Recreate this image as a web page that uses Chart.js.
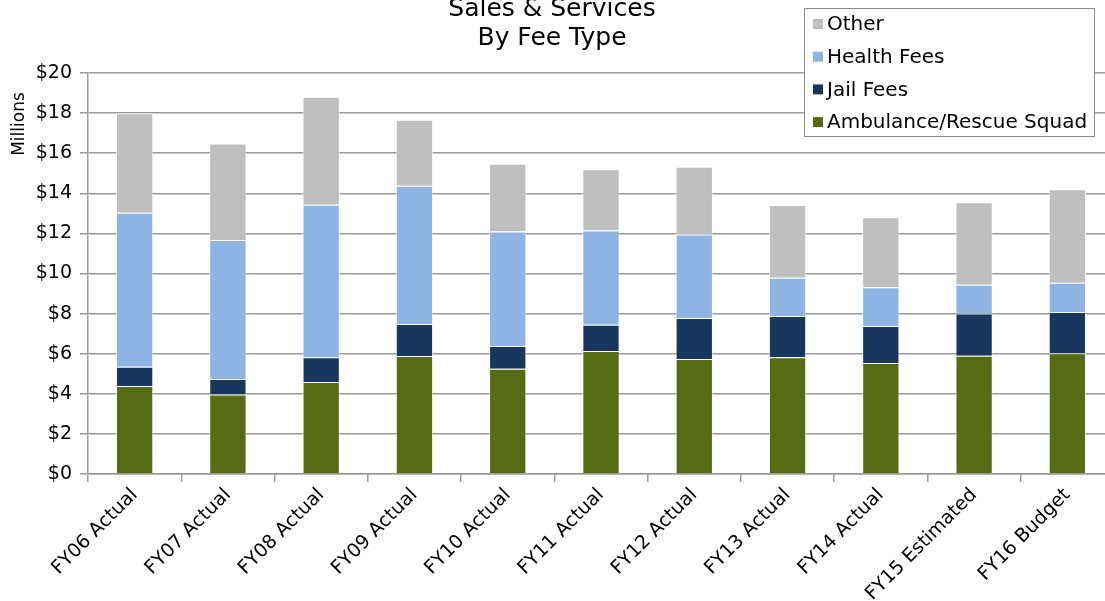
<!DOCTYPE html>
<html>
<head>
<meta charset="utf-8">
<script src="https://cdn.jsdelivr.net/npm/chart.js@4"></script>
<style>
  html, body { margin: 0; padding: 0; background: #fff; overflow: hidden; }
  #wrap { width: 1114px; height: 601px; }
</style>
</head>
<body>
<div id="wrap"><canvas id="chart" width="1114" height="601"></canvas></div>
<script>
// Sales & Services by fee type, $ millions
const categories = ['FY06 Actual', 'FY07 Actual', 'FY08 Actual', 'FY09 Actual', 'FY10 Actual',
    'FY11 Actual', 'FY12 Actual', 'FY13 Actual', 'FY14 Actual', 'FY15 Estimated', 'FY16 Budget'];
const ambulance = [4.39, 3.97, 4.59, 5.89, 5.25, 6.13, 5.74, 5.82, 5.54, 5.90, 6.02];
const jailFees = [0.96, 0.77, 1.23, 1.59, 1.13, 1.32, 2.04, 2.06, 1.84, 2.11, 2.06];
const healthFees = [7.68, 6.93, 7.61, 6.90, 5.71, 4.69, 4.16, 1.91, 1.93, 1.43, 1.46];
const other = [4.96, 4.82, 5.39, 3.29, 3.39, 3.06, 3.39, 3.63, 3.49, 4.11, 4.66];
const yTicks = [0, 2, 4, 6, 8, 10, 12, 14, 16, 18, 20];

const FONT = '"DejaVu Sans", sans-serif';
const GRID = '#9a9a9a';

// title, "Millions" label and the boxed legend, drawn like the Excel original
const extras = {
    id: 'extras',
    afterDraw(chart) {
        const ctx = chart.ctx;
        ctx.save();
        ctx.fillStyle = '#000';
        ctx.font = '25px ' + FONT;
        ctx.textAlign = 'center';
        ctx.textBaseline = 'alphabetic';
        ctx.fillText('Sales & Services', 552, 16);
        ctx.fillText('By Fee Type', 552, 45);

        ctx.save();
        ctx.translate(24, 124);
        ctx.rotate(-Math.PI / 2);
        ctx.font = '17px ' + FONT;
        ctx.textAlign = 'center';
        ctx.fillText('Millions', 0, 0);
        ctx.restore();

        // legend box
        const lx = 804, ly = 8, lw = 290, lh = 128;
        ctx.fillStyle = '#fff';
        ctx.fillRect(lx, ly, lw, lh);
        ctx.strokeStyle = '#8a8a8a';
        ctx.lineWidth = 1;
        ctx.strokeRect(lx + 0.5, ly + 0.5, lw, lh);
        const items = chart.data.datasets.slice().reverse();
        ctx.font = '20px ' + FONT;
        ctx.textAlign = 'left';
        ctx.textBaseline = 'middle';
        items.forEach((d, i) => {
            const y = 24 + i * 32.7;
            ctx.fillStyle = d.backgroundColor;
            ctx.fillRect(813, y - 5, 10, 10);
            ctx.fillStyle = '#000';
            ctx.fillText(d.label, 827, y + 1);
        });
        ctx.restore();
    }
};

new Chart(document.getElementById('chart'), {
    type: 'bar',
    data: {
        labels: categories,
        datasets: [
            { label: 'Ambulance/Rescue Squad', data: ambulance, backgroundColor: '#576C12' },
            { label: 'Jail Fees', data: jailFees, backgroundColor: '#17375E' },
            { label: 'Health Fees', data: healthFees, backgroundColor: '#8EB4E3' },
            { label: 'Other', data: other, backgroundColor: '#BFBFBF' }
        ].map(d => Object.assign(d, {
            borderColor: 'rgba(255,255,255,0.7)',
            borderWidth: 1,
            barPercentage: 0.4,
            categoryPercentage: 1.0
        }))
    },
    options: {
        responsive: false,
        animation: false,
        layout: { padding: { top: 73, left: 0, right: 0, bottom: 0 } },
        plugins: {
            legend: { display: false },
            title: { display: false },
            tooltip: { enabled: false }
        },
        scales: {
            x: {
                stacked: true,
                afterFit(scale) { scale.height = 127; },
                grid: {
                    drawOnChartArea: false,
                    drawTicks: true,
                    tickLength: 8,
                    color: GRID,
                    lineWidth: 1.5,
                    offset: true
                },
                border: { color: GRID, width: 1.5 },
                ticks: {
                    color: '#000',
                    font: { family: FONT, size: 19 },
                    minRotation: 45,
                    maxRotation: 45,
                    autoSkip: false,
                    padding: 2
                }
            },
            y: {
                stacked: true,
                min: 0,
                max: 20,
                afterFit(scale) { scale.width = 88; },
                afterBuildTicks(scale) { scale.ticks = yTicks.map(v => ({ value: v })); },
                grid: {
                    color: GRID,
                    lineWidth: 1.5,
                    tickLength: 8
                },
                border: { color: GRID, width: 1.5 },
                ticks: {
                    color: '#000',
                    font: { family: FONT, size: 19 },
                    padding: 8,
                    callback: v => '$' + v
                }
            }
        }
    },
    plugins: [extras]
});
</script>
</body>
</html>
